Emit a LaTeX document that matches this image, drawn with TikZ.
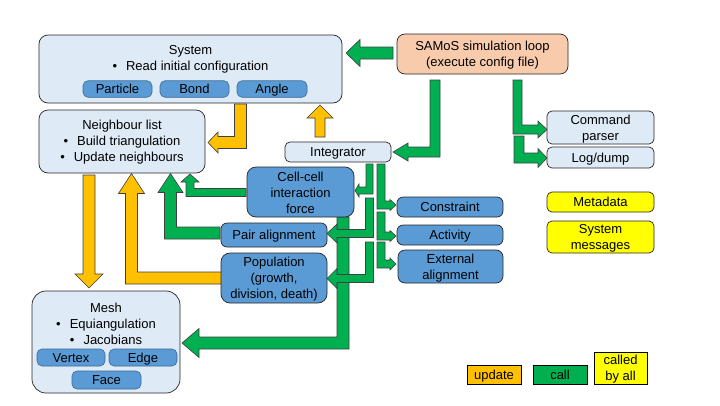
\documentclass[tikz,border=0pt]{standalone}
\usepackage{fontspec}
\setmainfont{Liberation Sans}
\definecolor{lblue}{HTML}{DEEAF6}
\definecolor{mblue}{HTML}{5B9BD5}
\definecolor{mbord}{HTML}{3A6A96}
\definecolor{peach}{HTML}{F8CBAD}
\definecolor{orng}{HTML}{FFC000}
\definecolor{grn}{HTML}{00B050}
\definecolor{ylw}{HTML}{FFFF00}
% down then left: style, cx, y0, cy, tipx, w, h, L
\newcommand\ArDL[8]{\draw[#1] ({#2-#6},#3) -- ({#2+#6},#3) -- ({#2+#6},{#4+#6}) -- ({#5+#8},{#4+#6}) -- ({#5+#8},{#4+#7}) -- (#5,#4) -- ({#5+#8},{#4-#7}) -- ({#5+#8},{#4-#6}) -- ({#2-#6},{#4-#6}) -- cycle;}
% down then right
\newcommand\ArDR[8]{\draw[#1] ({#2+#6},#3) -- ({#2-#6},#3) -- ({#2-#6},{#4+#6}) -- ({#5-#8},{#4+#6}) -- ({#5-#8},{#4+#7}) -- (#5,#4) -- ({#5-#8},{#4-#7}) -- ({#5-#8},{#4-#6}) -- ({#2+#6},{#4-#6}) -- cycle;}
% left then up: style, x0, cy, cx, tipy, w, h, L
\newcommand\ArLU[8]{\draw[#1] (#2,{#3-#6}) -- (#2,{#3+#6}) -- ({#4-#6},{#3+#6}) -- ({#4-#6},{#5+#8}) -- ({#4-#7},{#5+#8}) -- (#4,#5) -- ({#4+#7},{#5+#8}) -- ({#4+#6},{#5+#8}) -- ({#4+#6},{#3-#6}) -- cycle;}
\tikzset{
  upd/.style={fill=orng, draw=black!75, line width=0.6pt, line join=miter},
  cal/.style={fill=grn, draw=black!75, line width=0.6pt, line join=miter},
  lb/.style={draw=black!85, fill=lblue, rounded corners=9pt, line width=0.7pt, inner sep=0pt},
  lbs/.style={draw=black!85, fill=lblue, rounded corners=5pt, line width=0.7pt, inner sep=0pt, align=center},
  mb/.style={draw=mbord, fill=mblue, rounded corners=5pt, line width=0.6pt, inner sep=0pt, align=center},
  mbl/.style={draw=black!85, fill=mblue, rounded corners=9pt, line width=0.7pt, inner sep=0pt, align=center},
  yb/.style={draw=black!85, fill=ylw, rounded corners=5pt, line width=0.7pt, inner sep=0pt, align=center},
  leg/.style={draw=black, line width=0.8pt, inner sep=0pt, align=center},
  txt/.style={align=center, inner sep=0pt, yshift=-1.2pt},
  one/.style={text height=9.4pt, text depth=0pt},
  two/.style={text height=9.4pt, text depth=16pt},
  three/.style={text height=9.4pt, text depth=32pt},
}
\newcommand\bul{\textbullet\hspace{9pt}}
\begin{document}
\begin{tikzpicture}[x=1pt,y=-1pt, font=\fontsize{13}{16}\selectfont]
\useasboundingbox[fill=white] (0,0) rectangle (720,405);

% ---- arrows (drawn first) ----
% System -> Neighbour list (update)
\ArDL{upd}{240.5}{104}{142.5}{208}{6}{10.5}{10}
% Integrator -> System (update)
\draw[upd] (315,137) -- (325,137) -- (325,118) -- (333,118) -- (320,105) -- (307,118) -- (315,118) -- cycle;
% SAMoS -> System (call)
\draw[cal] (393,47) -- (393,59) -- (360,59) -- (360,66.5) -- (346,53) -- (360,39.5) -- (360,47) -- cycle;
% SAMoS -> Integrator
\ArDL{cal}{435}{80}{152}{393}{5}{9}{15}
% SAMoS -> Command parser, Log/dump
\ArDR{cal}{517.5}{80}{129.5}{547}{4.5}{8.5}{9}
\ArDR{cal}{519}{136}{158}{547}{5}{9.5}{9}
% Cell-cell -> Mesh (big)
\ArDL{cal}{343}{217}{343}{182}{6}{14.5}{17}
% Integrator -> Cell-cell, Pair alignment, Population
\ArDL{cal}{369.5}{164}{190.5}{355}{3.5}{6.5}{4}
\ArDL{cal}{369.5}{198}{233.5}{327}{4}{9.5}{10}
\ArDL{cal}{369.5}{242}{278.5}{327}{4}{10}{10}
% Integrator -> Constraint, Activity, External alignment
\ArDR{cal}{381}{164}{205}{396}{4}{5.5}{6}
\ArDR{cal}{381}{212}{236}{396}{4}{5.5}{6}
\ArDR{cal}{381}{242}{264}{396}{4}{6}{6}
% Cell-cell -> Neighbour list
\ArLU{cal}{246}{192.5}{190}{174}{4}{9}{8}
% Pair alignment -> Neighbour list
\ArLU{cal}{220}{233}{170.5}{173.5}{6}{12.5}{19}
% Population -> Neighbour list (update)
\ArLU{upd}{222}{278}{131.5}{173.5}{6}{13}{20}
% Neighbour list -> Mesh (update)
\draw[upd] (83,175) -- (95,175) -- (95,274) -- (103,274) -- (89,288) -- (75,274) -- (83,274) -- cycle;

% ---- boxes ----
\node[lb, minimum width=303pt, minimum height=68pt] (sys) at (190.5,69) {};
\node[txt] (systxt) at (190.5,58) {System\\\bul Read initial configuration};
\node[mb, one, minimum width=69pt, minimum height=16.5pt] (part) at (117.5,89) {Particle};
\node[mb, one, minimum width=69pt, minimum height=16.5pt] (bond) at (194.5,89) {Bond};
\node[mb, one, minimum width=70pt, minimum height=16.5pt] (angle) at (272,89) {Angle};

\node[lb, minimum width=166pt, minimum height=63pt] (nbr) at (122,141.5) {};
\node[txt] (nbrtxt) at (122,140.5) {Neighbour list\\\bul Build triangulation\\\bul Update neighbours};

\node[lbs, one, minimum width=106pt, minimum height=20pt] (integ) at (338,152) {Integrator};
\node[lbs, fill=peach, rounded corners=8pt, minimum width=171pt, minimum height=40pt] (samos) at (482.5,54) {};
\node[txt] (samostxt) at (482.5,54) {SAMoS simulation loop\\(execute config file)};
\node[lbs, minimum width=107pt, minimum height=33pt] (cmd) at (600.5,127.5) {};
\node[txt] (cmdtxt) at (600.5,127.5) {Command\\parser};
\node[lbs, one, minimum width=107pt, minimum height=21pt] (log) at (600.5,157.5) {Log/dump};
\node[yb, one, minimum width=107pt, minimum height=20pt] (meta) at (600.5,202) {Metadata};
\node[yb, minimum width=107pt, minimum height=32pt] (sysmsg) at (600.5,237) {};
\node[txt] (sysmsgtxt) at (600.5,237) {System\\messages};

\node[mbl, minimum width=107pt, minimum height=50pt] (cell) at (300.5,192) {};
\node[txt] (celltxt) at (300.5,192) {Cell-cell\\interaction\\force};
\node[mbl, one, rounded corners=6pt, minimum width=106pt, minimum height=24pt] (pair) at (274,235) {Pair alignment};
\node[mbl, minimum width=106pt, minimum height=50pt] (pop) at (274,278) {};
\node[txt] (poptxt) at (274,278) {Population\\(growth,\\division, death)};
\node[mbl, one, rounded corners=6pt, minimum width=106pt, minimum height=20pt] (cons) at (450,207) {Constraint};
\node[mbl, one, rounded corners=6pt, minimum width=106pt, minimum height=20pt] (act) at (450,235) {Activity};
\node[mbl, rounded corners=7pt, minimum width=105pt, minimum height=33pt] (ext) at (450.5,266.5) {};
\node[txt] (exttxt) at (450.5,266.5) {External\\alignment};

\node[lb, rounded corners=14pt, minimum width=148pt, minimum height=102pt] (mesh) at (106,342) {};
\node[txt] (meshtxt) at (106,323) {Mesh\\\bul Equiangulation\\\bul Jacobians};
\node[mb, one, minimum width=68pt, minimum height=17pt] (vert) at (71,357.5) {Vertex};
\node[mb, one, minimum width=68pt, minimum height=17pt] (edge) at (143,357.5) {Edge};
\node[mb, one, minimum width=69pt, minimum height=18pt] (face) at (106.5,380) {Face};

% ---- legend ----
\node[leg, one, fill=orng, minimum width=54pt, minimum height=19pt] (lupd) at (494,374.5) {update};
\node[leg, one, fill=grn, minimum width=54pt, minimum height=19pt] (lcal) at (560,374.5) {call};
\node[leg, fill=ylw, minimum width=53pt, minimum height=32pt] (lall) at (620.5,368) {};
\node[txt] (lalltxt) at (620.5,368) {called\\by all};
\end{tikzpicture}
\end{document}
